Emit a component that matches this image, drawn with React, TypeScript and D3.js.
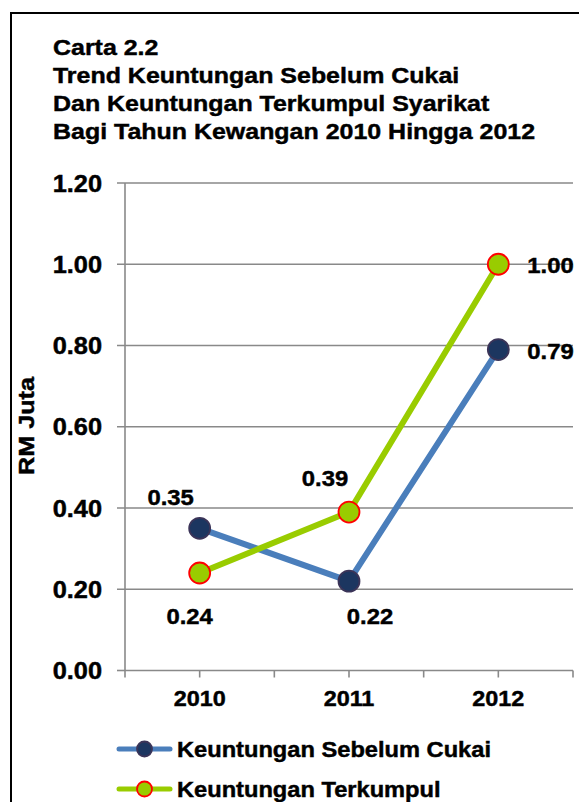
import React, { useRef, useEffect } from 'react';
import * as d3 from 'd3';

const titleLines = [
  'Carta 2.2',
  'Trend Keuntungan Sebelum Cukai',
  'Dan Keuntungan Terkumpul Syarikat',
  'Bagi Tahun Kewangan 2010 Hingga 2012',
];
const years = ['2010', '2011', '2012'];
const sebelumCukai = [0.35, 0.22, 0.79];
const terkumpul = [0.24, 0.39, 1.0];
const yTicks = [0, 0.2, 0.4, 0.6, 0.8, 1.0, 1.2];
const seriesNames = ['Keuntungan Sebelum Cukai', 'Keuntungan Terkumpul'];
const yTitle = 'RM Juta';

const FONT = '"Liberation Sans", Arial, sans-serif';

const App = () => {
  const svgRef = useRef<SVGSVGElement>(null);

  // SET DIMENSIONS
  const w = 579,
    h = 802;
  const plot = { left: 125, right: 573, top: 183, bottom: 670.5 };

  useEffect(() => {
    const svg = d3.select(svgRef.current);
    svg.selectAll('*').remove();

    const x = d3.scalePoint<string>().domain(years).range([plot.left, plot.right]).padding(0.5);
    const y = d3.scaleLinear().domain([0, 1.2]).range([plot.bottom, plot.top]);
    const step = x.step();

    // text helper: Excel text looks a bit wider and heavier than plain Arial
    const addText = (g, str, tx, ty, size, anchor = 'start', sx = 1.08) =>
      g
        .append('text')
        .attr('transform', `translate(${tx},${ty}) scale(${sx},1)`)
        .attr('text-anchor', anchor)
        .attr('font-family', FONT)
        .attr('font-weight', 'bold')
        .attr('font-size', size)
        .attr('fill', '#000')
        .attr('stroke', '#000')
        .attr('stroke-width', 0.45)
        .text(str);

    // FRAME
    svg
      .append('rect')
      .attr('x', 11)
      .attr('y', 13)
      .attr('width', 620)
      .attr('height', 840)
      .attr('fill', '#fff')
      .attr('stroke', '#000')
      .attr('stroke-width', 2);

    // TITLE
    titleLines.forEach((t, i) => addText(svg, t, 53, 54.5 + i * 28.3, 22.5, 'start', 1.11));

    // GRID + Y AXIS
    const grid = svg.append('g');
    yTicks.forEach((v) => {
      grid
        .append('line')
        .attr('x1', plot.left - 8)
        .attr('x2', v === 0 ? plot.left : plot.right)
        .attr('y1', y(v))
        .attr('y2', y(v))
        .attr('stroke', '#898989')
        .attr('stroke-width', 1.6);
      addText(svg, d3.format('.2f')(v), 102, y(v) + 8.5, 23.5, 'end', 1.08);
    });
    grid
      .append('line')
      .attr('x1', plot.left)
      .attr('x2', plot.left)
      .attr('y1', plot.top)
      .attr('y2', plot.bottom)
      .attr('stroke', '#898989')
      .attr('stroke-width', 1.6);

    // X AXIS
    grid
      .append('line')
      .attr('x1', plot.left)
      .attr('x2', plot.right)
      .attr('y1', plot.bottom)
      .attr('y2', plot.bottom)
      .attr('stroke', '#898989')
      .attr('stroke-width', 1.6);
    const tickXs = [plot.left, ...years.flatMap((c) => [x(c), x(c) + step / 2])];
    tickXs.forEach((tx) => {
      grid
        .append('line')
        .attr('x1', tx)
        .attr('x2', tx)
        .attr('y1', plot.bottom)
        .attr('y2', plot.bottom + 7)
        .attr('stroke', '#898989')
        .attr('stroke-width', 1.6);
    });
    years.forEach((c) => addText(svg, c, x(c), 706, 22.5, 'middle', 1.04));

    // Y TITLE
    svg
      .append('text')
      .attr('transform', `translate(34,426) rotate(-90) scale(1.12,1)`)
      .attr('text-anchor', 'middle')
      .attr('font-family', FONT)
      .attr('font-weight', 'bold')
      .attr('font-size', 22.5)
      .attr('stroke', '#000')
      .attr('stroke-width', 0.45)
      .text(yTitle);

    // SERIES
    const series = [
      {
        values: sebelumCukai,
        line: '#4A7EBB',
        fill: '#1C3660',
        stroke: '#3B3458',
        labels: [
          [-29, -23, 'middle'],
          [21, 43, 'middle'],
          [29, 9, 'start'],
        ],
      },
      {
        values: terkumpul,
        line: '#99CC00',
        fill: '#99CC00',
        stroke: '#FF0000',
        labels: [
          [-10, 51, 'middle'],
          [-24, -26, 'middle'],
          [29, 9, 'start'],
        ],
      },
    ];

    const lineGen = d3
      .line<number>()
      .x((_, i) => x(years[i]))
      .y((d) => y(d));

    series.forEach((s) => {
      svg
        .append('path')
        .attr('d', lineGen(s.values))
        .attr('fill', 'none')
        .attr('stroke', s.line)
        .attr('stroke-width', 6)
        .attr('stroke-linejoin', 'round');
    });
    series.forEach((s) => {
      s.values.forEach((v, i) => {
        svg
          .append('circle')
          .attr('cx', x(years[i]))
          .attr('cy', y(v))
          .attr('r', 10.5)
          .attr('fill', s.fill)
          .attr('stroke', s.stroke)
          .attr('stroke-width', 1.8);
        const [dx, dy, anchor] = s.labels[i];
        addText(svg, d3.format('.2f')(v), x(years[i]) + dx, y(v) + dy, 22.5, anchor, 1.06);
      });
    });

    // LEGEND
    series.forEach((s, i) => {
      const ly = 749 + i * 40;
      const lg = svg.append('g');
      lg.append('line')
        .attr('x1', 119)
        .attr('x2', 170)
        .attr('y1', ly)
        .attr('y2', ly)
        .attr('stroke', s.line)
        .attr('stroke-width', 5)
        .attr('stroke-linecap', 'round');
      lg.append('circle')
        .attr('cx', 144.5)
        .attr('cy', ly)
        .attr('r', 7.5)
        .attr('fill', s.fill)
        .attr('stroke', s.stroke)
        .attr('stroke-width', 1.8);
      addText(lg, seriesNames[i], 177, ly + 7.5, 21.5, 'start', 1.1);
    });
  }, []);

  return (
    <svg
      ref={svgRef}
      width={w}
      height={h}
      style={{ position: 'absolute', left: 0, top: 0, background: '#fff' }}
    />
  );
};

export default App;
